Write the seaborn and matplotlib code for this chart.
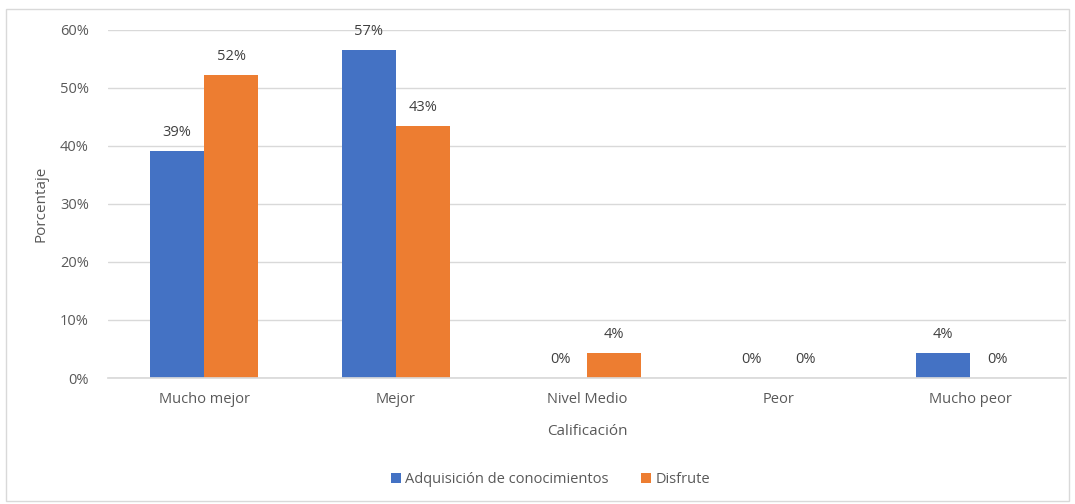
import matplotlib
matplotlib.use("Agg")
import matplotlib.pyplot as plt
import seaborn as sns
import pandas as pd
from matplotlib.patches import Patch, Rectangle

categories = ["Mucho mejor", "Mejor", "Nivel Medio", "Peor", "Mucho peor"]
series_names = ["Adquisición de conocimientos", "Disfrute"]
adquisicion = [39.13, 56.52, 0.0, 0.0, 4.35]
disfrute = [52.17, 43.48, 4.35, 0.0, 0.0]
y_ticks = [0, 10, 20, 30, 40, 50, 60]
colors = ["#4472C4", "#ED7D31"]

df = pd.DataFrame({
    "Calificación": categories * 2,
    "Serie": [series_names[0]] * 5 + [series_names[1]] * 5,
    "Porcentaje": adquisicion + disfrute,
})

sns.set_theme(style="white")
plt.rcParams["font.family"] = ["Open Sans", "DejaVu Sans"]
text_color = "#595959"
fs = 10.5

fig = plt.figure(figsize=(10.75, 5.04), dpi=100)
ax = fig.add_axes([0.1008, 0.25, 0.8907, 0.6905])

sns.barplot(data=df, x="Calificación", y="Porcentaje", hue="Serie",
            order=categories, hue_order=series_names, palette=colors,
            width=0.565, gap=0, saturation=1, ax=ax, legend=False,
            errorbar=None, edgecolor="none", linewidth=0)

for cont in ax.containers:
    ax.bar_label(cont, labels=[f"{round(v.get_height()):.0f}%" for v in cont],
                 padding=8, fontsize=fs, color="#404040")

ax.set_ylim(0, 60)
ax.set_yticks(y_ticks)
ax.set_yticklabels([f"{t}%" for t in y_ticks], fontsize=fs, color=text_color)
ax.tick_params(axis="x", labelsize=fs, labelcolor=text_color, length=0, pad=10)
ax.tick_params(axis="y", length=0, pad=14)
ax.yaxis.grid(True, color="#D9D9D9", linewidth=1)
ax.set_axisbelow(True)
for s in ["top", "right", "left"]:
    ax.spines[s].set_visible(False)
ax.spines["bottom"].set_color("#D9D9D9")
ax.set_xlim(-0.5, 4.5)

ax.set_xlabel("Calificación", fontsize=fs + 0.5, color=text_color, labelpad=12)
ax.set_ylabel("Porcentaje", fontsize=fs + 0.5, color=text_color, labelpad=8)

handles = [Patch(facecolor=c, edgecolor="none") for c in colors]
fig.legend(handles, series_names, loc="center", bbox_to_anchor=(0.512, 0.048),
           ncol=2, frameon=False, fontsize=fs, handlelength=0.7, handleheight=0.7,
           handletextpad=0.3, columnspacing=2.2, labelcolor=text_color)

fig.patches.append(Rectangle((0.006, 0.006), 0.988, 0.976, transform=fig.transFigure,
                             fill=False, edgecolor="#D9D9D9", linewidth=1))

fig.savefig("out.png", dpi=100, facecolor="white")
